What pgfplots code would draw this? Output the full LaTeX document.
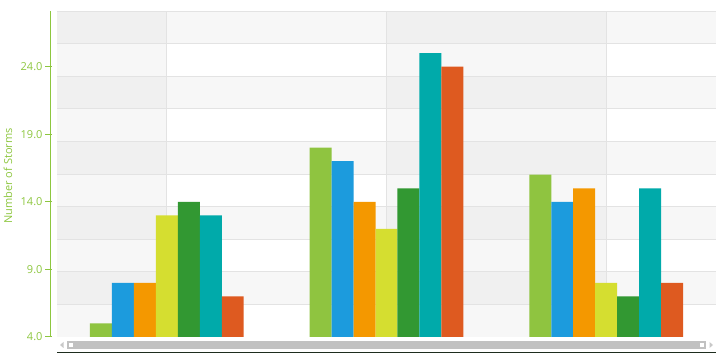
\documentclass[border=0pt]{standalone}
\usepackage{pgfplots}
\pgfplotsset{compat=1.18}
\usepackage{fontspec}
\setmainfont{Open Sans}
\definecolor{axgreen}{HTML}{8DC63F}
\definecolor{c1}{HTML}{8FC440}
\definecolor{c2}{HTML}{1C9BDD}
\definecolor{c3}{HTML}{F49800}
\definecolor{c4}{HTML}{D5DE30}
\definecolor{c5}{HTML}{329832}
\definecolor{c6}{HTML}{00AAAA}
\definecolor{c7}{HTML}{DE5A20}
\definecolor{gridc}{HTML}{E3E3E3}
\definecolor{bgdark}{HTML}{F0F0F0}
\definecolor{bgmid}{HTML}{F7F7F7}
\definecolor{scrollc}{HTML}{C1C1C1}
\definecolor{arrowc}{HTML}{C8C8C8}
\definecolor{darkline}{HTML}{1E2D1E}
\begin{document}
\begin{tikzpicture}
\useasboundingbox (0,0) rectangle (723pt,361pt);
\begin{axis}[
  at={(57pt,24pt)}, anchor=south west,
  scale only axis, width=659pt, height=326pt,
  xmin=-0.5, xmax=2.5, ymin=4, ymax=28.11,
  clip=true,
  axis x line=none,
  axis y line*=left,
  axis y line shift=6pt,
  y axis line style={color=axgreen, line width=1pt, -},
  xtick=\empty,
  ytick={4,9,14,19,24},
  tick align=outside,
  major tick length=5pt,
  tick style={color=axgreen, line width=1pt},
  yticklabel style={font=\fontsize{11}{13}\selectfont, color=axgreen},
  /pgf/number format/.cd, fixed, fixed zerofill, precision=1, assume math mode=true,
]
% background bands
\fill[bgmid] (axis cs:-0.5,4) rectangle (axis cs:2.5,28.11);
\pgfplotsinvokeforeach{1,3,5,7,9}{
  \fill[bgmid] (axis cs:0,{4+#1*2.411}) rectangle (axis cs:1,{4+(#1+1)*2.411});
  \fill[bgmid] (axis cs:2,{4+#1*2.411}) rectangle (axis cs:2.5,{4+(#1+1)*2.411});
  \fill[bgdark] (axis cs:-0.5,{4+#1*2.411}) rectangle (axis cs:0,{4+(#1+1)*2.411});
  \fill[bgdark] (axis cs:1,{4+#1*2.411}) rectangle (axis cs:2,{4+(#1+1)*2.411});
}
\pgfplotsinvokeforeach{0,2,4,6,8}{
  \fill[white] (axis cs:0,{4+#1*2.411}) rectangle (axis cs:1,{4+(#1+1)*2.411});
  \fill[white] (axis cs:2,{4+#1*2.411}) rectangle (axis cs:2.5,{4+(#1+1)*2.411});
}
% grid
\pgfplotsinvokeforeach{0,...,10}{
  \draw[gridc, line width=0.9pt] (axis cs:-0.5,{4+#1*2.411}) -- (axis cs:2.5,{4+#1*2.411});
}
\pgfplotsinvokeforeach{0,1,2}{
  \draw[gridc, line width=0.9pt] (axis cs:#1,4) -- (axis cs:#1,28.11);
}
\addplot[ybar, bar width=0.1, bar shift=-0.3, fill=c1, draw=none] coordinates {(0,5) (1,18) (2,16)};
\addplot[ybar, bar width=0.1, bar shift=-0.2, fill=c2, draw=none] coordinates {(0,8) (1,17) (2,14)};
\addplot[ybar, bar width=0.1, bar shift=-0.1, fill=c3, draw=none] coordinates {(0,8) (1,14) (2,15)};
\addplot[ybar, bar width=0.1, bar shift=0, fill=c4, draw=none] coordinates {(0,13) (1,12) (2,8)};
\addplot[ybar, bar width=0.1, bar shift=0.1, fill=c5, draw=none] coordinates {(0,14) (1,15) (2,7)};
\addplot[ybar, bar width=0.1, bar shift=0.2, fill=c6, draw=none] coordinates {(0,13) (1,25) (2,15)};
\addplot[ybar, bar width=0.1, bar shift=0.3, fill=c7, draw=none] coordinates {(0,7) (1,24) (2,8)};
\end{axis}
% y tick marks
\draw[axgreen, line width=1.2pt] (45pt,24.5pt) -- (51.8pt,24.5pt);
\draw[axgreen, line width=1.2pt] (45pt,91.5pt) -- (51.8pt,91.5pt);
\draw[axgreen, line width=1.2pt] (45pt,159.5pt) -- (51.8pt,159.5pt);
\draw[axgreen, line width=1.2pt] (45pt,226.5pt) -- (51.8pt,226.5pt);
\draw[axgreen, line width=1.2pt] (45pt,294.5pt) -- (51.8pt,294.5pt);
\node[rotate=90, text=axgreen, font=\fontsize{11}{13}\selectfont, inner sep=0pt] at (8pt,185pt) {Number of Storms};
% scrollbar
\fill[scrollc] (67pt,11.7pt) rectangle (706pt,20.3pt);
\fill[white] (69.3pt,13.7pt) rectangle (72.7pt,18.3pt);
\fill[white] (700pt,13.7pt) rectangle (704pt,18.3pt);
\fill[arrowc] (60pt,16pt) -- (63.5pt,19pt) -- (63.5pt,13pt) -- cycle;
\fill[arrowc] (713pt,16pt) -- (709.5pt,19pt) -- (709.5pt,13pt) -- cycle;
\draw[darkline, line width=1pt] (57pt,8.7pt) -- (716pt,8.7pt);
\end{tikzpicture}
\end{document}
